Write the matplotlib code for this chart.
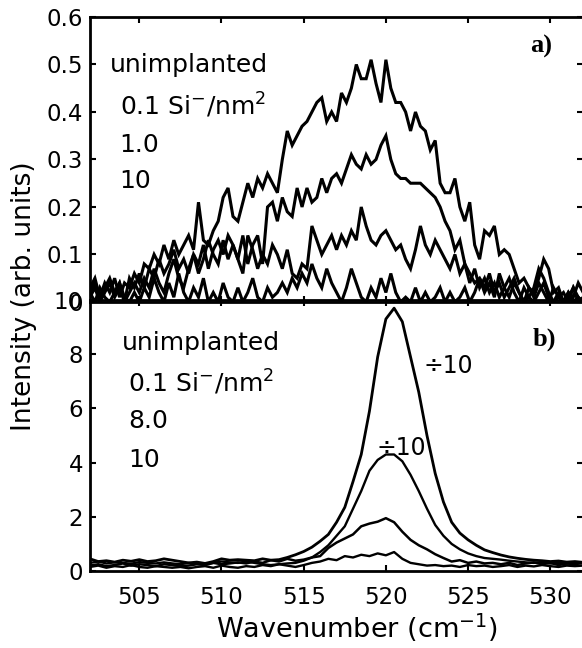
import numpy as np
import matplotlib
matplotlib.use('Agg')
import matplotlib.pyplot as plt

# ---- panel a) : weak, noisy spectra (0.3 cm^-1 grid from 502 to 532) ----
wn_a = np.round(np.arange(101) * 0.3 + 502.0, 2)

spec_a1 = [0.03, 0.05, 0.01, 0.04, 0.02, 0.05, 0.01, 0.04, 0.03, 0.06,
           0.04, 0.08, 0.07, 0.10, 0.08, 0.12, 0.09, 0.13, 0.10, 0.12,
           0.14, 0.11, 0.21, 0.13, 0.12, 0.15, 0.17, 0.22, 0.24, 0.18,
           0.17, 0.21, 0.25, 0.22, 0.26, 0.24, 0.27, 0.25, 0.23, 0.30,
           0.36, 0.33, 0.35, 0.37, 0.38, 0.40, 0.42, 0.43, 0.38, 0.40,
           0.38, 0.44, 0.42, 0.45, 0.50, 0.47, 0.47, 0.51, 0.46, 0.42,
           0.51, 0.45, 0.42, 0.42, 0.40, 0.36, 0.40, 0.37, 0.36, 0.32,
           0.34, 0.25, 0.23, 0.23, 0.26, 0.20, 0.17, 0.21, 0.12, 0.09,
           0.15, 0.14, 0.16, 0.10, 0.11, 0.10, 0.07, 0.04, 0.05, 0.03,
           0.02, 0.05, 0.09, 0.07, 0.02, 0.03, 0.00, 0.02, 0.01, 0.04,
           0.02]
spec_a2 = [0.02, 0.04, 0.00, 0.03, 0.05, 0.02, 0.04, 0.00, 0.05, 0.03,
           0.06, 0.03, 0.07, 0.05, 0.09, 0.06, 0.08, 0.11, 0.07, 0.09,
           0.06, 0.10, 0.08, 0.12, 0.07, 0.11, 0.13, 0.10, 0.14, 0.12,
           0.09, 0.14, 0.08, 0.12, 0.14, 0.08, 0.20, 0.21, 0.17, 0.22,
           0.19, 0.18, 0.24, 0.20, 0.24, 0.21, 0.22, 0.26, 0.23, 0.26,
           0.27, 0.25, 0.28, 0.31, 0.29, 0.28, 0.31, 0.29, 0.30, 0.33,
           0.35, 0.30, 0.27, 0.26, 0.26, 0.25, 0.25, 0.25, 0.24, 0.23,
           0.22, 0.20, 0.17, 0.15, 0.11, 0.13, 0.08, 0.06, 0.04, 0.05,
           0.03, 0.06, 0.02, 0.04, 0.01, 0.03, 0.05, 0.02, 0.00, 0.03,
           0.01, 0.04, 0.02, 0.00, 0.03, 0.01, 0.00, 0.02, 0.00, 0.01,
           0.00]
spec_a3 = [0.01, 0.03, 0.00, 0.02, 0.04, 0.01, 0.03, 0.00, 0.02, 0.04,
           0.02, 0.05, 0.03, 0.07, 0.04, 0.02, 0.06, 0.09, 0.05, 0.03,
           0.07, 0.10, 0.06, 0.09, 0.13, 0.10, 0.08, 0.13, 0.09, 0.12,
           0.09, 0.06, 0.14, 0.11, 0.07, 0.10, 0.08, 0.12, 0.10, 0.07,
           0.11, 0.06, 0.05, 0.08, 0.07, 0.16, 0.13, 0.10, 0.12, 0.14,
           0.11, 0.14, 0.12, 0.15, 0.13, 0.20, 0.16, 0.13, 0.12, 0.14,
           0.15, 0.13, 0.11, 0.12, 0.09, 0.07, 0.11, 0.16, 0.12, 0.10,
           0.13, 0.11, 0.09, 0.07, 0.10, 0.06, 0.08, 0.04, 0.07, 0.03,
           0.05, 0.02, 0.04, 0.01, 0.03, 0.05, 0.02, 0.00, 0.03, 0.01,
           0.00, 0.02, 0.04, 0.01, 0.00, 0.02, 0.00, 0.01, 0.03, 0.00,
           0.01]
spec_a4 = [0.02, 0.00, 0.03, 0.01, 0.00, 0.02, 0.04, 0.01, 0.00, 0.02,
           0.00, 0.03, 0.01, 0.05, 0.02, 0.00, 0.04, 0.01, 0.06, 0.02,
           0.00, 0.03, 0.01, 0.05, 0.00, 0.02, 0.00, 0.04, 0.01, 0.00,
           0.03, 0.00, 0.02, 0.05, 0.01, 0.00, 0.03, 0.01, 0.02, 0.04,
           0.02, 0.05, 0.03, 0.06, 0.04, 0.08, 0.05, 0.03, 0.07, 0.04,
           0.02, 0.00, 0.03, 0.07, 0.04, 0.01, 0.00, 0.03, 0.01, 0.05,
           0.02, 0.06, 0.02, 0.00, 0.01, 0.00, 0.03, 0.00, 0.02, 0.00,
           0.01, 0.03, 0.00, 0.02, 0.00, 0.01, 0.03, 0.00, 0.02, 0.05,
           0.02, 0.04, 0.01, 0.06, 0.03, 0.01, 0.04, 0.02, 0.00, 0.01,
           0.03, 0.07, 0.05, 0.02, 0.00, 0.01, 0.02, 0.00, 0.03, 0.01,
           0.00]

# ---- panel b) : strong spectra (0.5 cm^-1 grid from 502 to 532) ----
wn_b = np.round(np.arange(61) * 0.5 + 502.0, 2)

spec_b1 = [0.45, 0.35, 0.38, 0.33, 0.40, 0.36, 0.42, 0.35, 0.38, 0.45,
           0.40, 0.35, 0.30, 0.33, 0.28, 0.35, 0.45, 0.40, 0.42, 0.40,
           0.38, 0.45, 0.40, 0.42, 0.50, 0.60, 0.72, 0.88, 1.10, 1.35,
           1.80, 2.35, 3.30, 4.30, 5.90, 7.90, 9.30, 9.70, 9.20, 7.90,
           6.60, 5.00, 3.60, 2.55, 1.80, 1.40, 1.15, 0.95, 0.78, 0.68,
           0.59, 0.52, 0.47, 0.43, 0.40, 0.38, 0.35, 0.37, 0.33, 0.35,
           0.32]
spec_b2 = [0.30, 0.35, 0.28, 0.32, 0.30, 0.27, 0.33, 0.30, 0.28, 0.32,
           0.28, 0.25, 0.30, 0.27, 0.25, 0.30, 0.35, 0.32, 0.30, 0.35,
           0.30, 0.25, 0.22, 0.25, 0.28, 0.30, 0.38, 0.50, 0.70, 0.95,
           1.30, 1.65, 2.30, 2.95, 3.70, 4.10, 4.30, 4.30, 4.05, 3.55,
           2.95, 2.30, 1.70, 1.30, 1.00, 0.80, 0.65, 0.55, 0.48, 0.45,
           0.42, 0.38, 0.35, 0.32, 0.30, 0.33, 0.28, 0.30, 0.27, 0.30,
           0.28]
spec_b3 = [0.20, 0.25, 0.18, 0.22, 0.28, 0.20, 0.25, 0.22, 0.18, 0.25,
           0.22, 0.18, 0.20, 0.25, 0.22, 0.30, 0.25, 0.28, 0.32, 0.28,
           0.35, 0.30, 0.40, 0.35, 0.45, 0.38, 0.42, 0.50, 0.55, 0.85,
           1.05, 1.20, 1.35, 1.65, 1.75, 1.82, 1.95, 1.80, 1.45, 1.15,
           0.95, 0.80, 0.62, 0.48, 0.35, 0.40, 0.30, 0.35, 0.28, 0.30,
           0.25, 0.30, 0.22, 0.28, 0.32, 0.25, 0.30, 0.22, 0.28, 0.25,
           0.30]
spec_b4 = [0.15, 0.20, 0.12, 0.18, 0.15, 0.22, 0.15, 0.12, 0.18, 0.15,
           0.12, 0.15, 0.10, 0.15, 0.18, 0.12, 0.20, 0.15, 0.12, 0.18,
           0.15, 0.22, 0.18, 0.25, 0.20, 0.15, 0.22, 0.30, 0.35, 0.45,
           0.40, 0.55, 0.50, 0.60, 0.55, 0.65, 0.58, 0.70, 0.45, 0.30,
           0.25, 0.20, 0.22, 0.18, 0.20, 0.15, 0.22, 0.18, 0.20, 0.15,
           0.18, 0.22, 0.15, 0.20, 0.17, 0.22, 0.18, 0.15, 0.20, 0.18,
           0.20]

x_ticks = [505, 510, 515, 520, 525, 530]
yticks_a = [0, 0.1, 0.2, 0.3, 0.4, 0.5, 0.6]
ytick_labels_a = ['0', '0.1', '0.2', '0.3', '0.4', '0.5', '0.6']
yticks_b = [0, 2, 4, 6, 8, 10]

labels_a = ['unimplanted', r'0.1 Si$^{-}$/nm$^2$', '1.0', '10']
labels_b = ['unimplanted', r'0.1 Si$^{-}$/nm$^2$', '8.0', '10']

plt.rcParams['font.family'] = 'DejaVu Sans'
plt.rcParams['mathtext.fontset'] = 'dejavusans'

fig = plt.figure(figsize=(5.82, 6.48), dpi=100)
ax_b = fig.add_axes([0.1546, 0.1188, 0.8474, 0.4182])
ax_a = fig.add_axes([0.1546, 0.534, 0.8474, 0.4398])


def style_axes(ax):
    for s in ax.spines.values():
        s.set_linewidth(2.0)
    ax.tick_params(direction='in', length=4, width=1.5, top=True, right=True,
                   labelsize=16.5)
    ax.tick_params(axis='x', pad=11)
    ax.tick_params(axis='y', pad=5)
    ax.set_xlim(502, 532)
    ax.set_xticks(x_ticks)


# panel a
for s in [spec_a1, spec_a2, spec_a3, spec_a4]:
    ax_a.plot(wn_a, s, color='black', lw=2.2, solid_joinstyle='miter')
style_axes(ax_a)
ax_a.set_ylim(0, 0.6)
ax_a.set_yticks(yticks_a)
ax_a.set_yticklabels(ytick_labels_a)
ax_a.tick_params(axis='x', labelbottom=False)
ax_a.patch.set_alpha(0)

ax_a.text(503.2, 0.484, labels_a[0], fontsize=18, va='baseline')
ax_a.text(503.8, 0.394, labels_a[1], fontsize=18, va='baseline')
ax_a.text(503.8, 0.316, labels_a[2], fontsize=18, va='baseline')
ax_a.text(503.8, 0.240, labels_a[3], fontsize=18, va='baseline')
ax_a.text(528.8, 0.524, 'a)', fontsize=19, fontweight='bold',
          family='Liberation Serif', va='baseline')

# panel b
for s, w in zip([spec_b1, spec_b2, spec_b3, spec_b4], [2.0, 1.7, 1.8, 1.7]):
    ax_b.plot(wn_b, s, color='black', lw=w)
style_axes(ax_b)
ax_b.set_ylim(0, 10)
ax_b.set_yticks(yticks_b)

ax_b.text(503.95, 8.14, labels_b[0], fontsize=18, va='baseline')
ax_b.text(504.3, 6.59, labels_b[1], fontsize=18, va='baseline')
ax_b.text(504.3, 5.27, labels_b[2], fontsize=18, va='baseline')
ax_b.text(504.3, 3.83, labels_b[3], fontsize=18, va='baseline')
ax_b.text(528.9, 8.32, 'b)', fontsize=19, fontweight='bold',
          family='Liberation Serif', va='baseline')
ax_b.text(522.3, 7.29, '\u00f710', fontsize=17, va='baseline')
ax_b.text(519.4, 4.27, '\u00f710', fontsize=17, va='baseline')

fig.text(0.041, 0.543, 'Intensity (arb. units)', rotation=90, fontsize=19,
         ha='center', va='center')
fig.text(0.613, 0.031, r'Wavenumber (cm$^{-1}$)', fontsize=19.5,
         ha='center', va='center')

fig.savefig('out.png', dpi=100)
